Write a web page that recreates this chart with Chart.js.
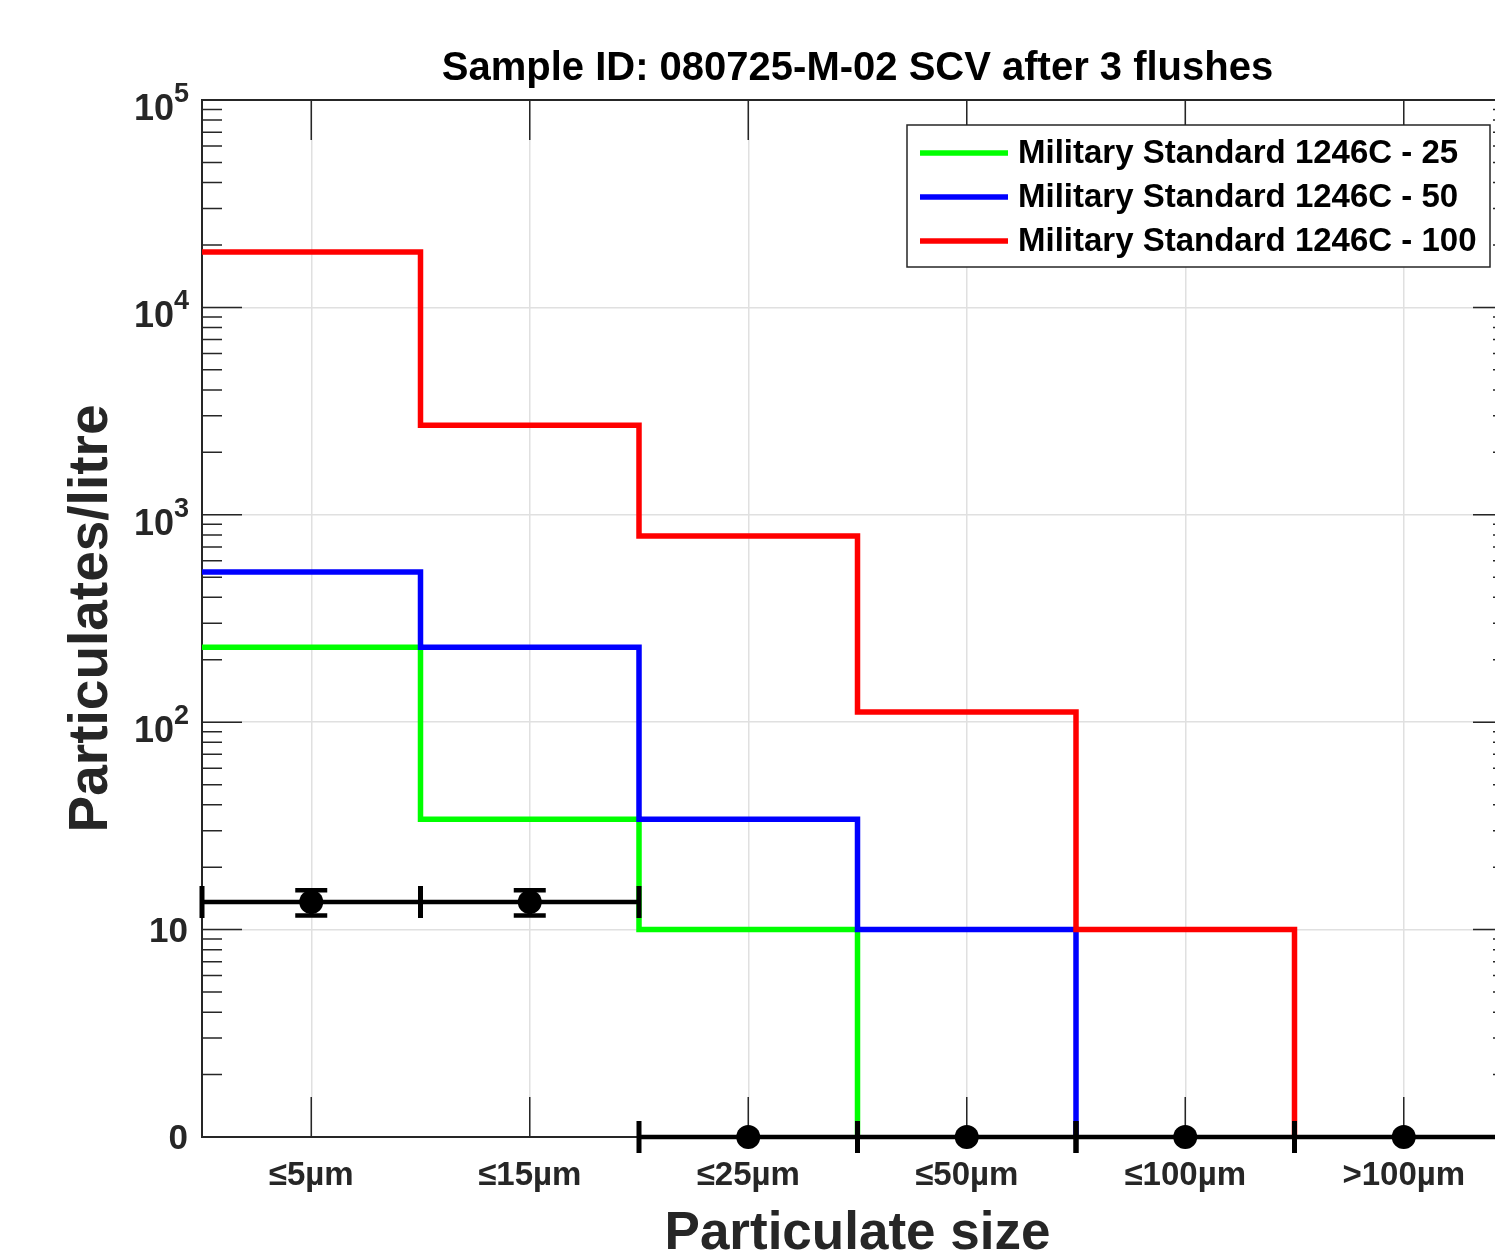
<!DOCTYPE html>
<html>
<head>
<meta charset="utf-8">
<title>Sample ID: 080725-M-02 SCV after 3 flushes</title>
<script src="https://cdn.jsdelivr.net/npm/chart.js@4.4.1/dist/chart.umd.min.js"></script>
<style>
  html, body { margin: 0; padding: 0; background: #fff; overflow: hidden; }
  canvas { display: block; }
</style>
</head>
<body>
<canvas id="particleChart" width="1515" height="1256"></canvas>
<script>
// DATOS DEL GRAFICO
const sizeBins = ['≤5µm', '≤15µm', '≤25µm', '≤50µm', '≤100µm', '>100µm'];
const milStd25 = [230, 34, 10, 0, 0, 0];
const milStd50 = [530, 230, 34, 10, 0, 0];
const milStd100 = [18500, 2700, 790, 112, 10, 0];
const sampleCounts = [13.6, 13.6, 0, 0, 0, 0];
const sampleErrors = [1.9, 1.9, 0, 0, 0, 0];
const yTickValues = [1, 10, 100, 1000, 10000, 100000];
const seriesLabels = ['Military Standard 1246C - 25', 'Military Standard 1246C - 50', 'Military Standard 1246C - 100'];

// ESTILOS
const FONT = '"Liberation Sans", Arial, Helvetica, sans-serif';
const AXIS_COLOR = '#262626';
const GRID_COLOR = '#e0e0e0';
const seriesColors = ['#00ff00', '#0000ff', '#ff0000'];
const FLOOR = 0.001; // los ceros caen por debajo del eje (como en escala log)

Chart.defaults.font.family = FONT;

// convierte los valores por intervalo en puntos de una linea escalonada
function stepPoints(values) {
    const pts = values.map((v, i) => ({ x: i, y: v > 0 ? v : FLOOR }));
    pts.push({ x: values.length, y: pts[pts.length - 1].y });
    return pts;
}

// EJES: caja, marcas interiores, etiquetas del eje y y titulo
const axesPlugin = {
    id: 'axesBox',
    beforeDatasetsDraw(chart) {
        const ctx = chart.ctx;
        const a = chart.chartArea;
        const xs = chart.scales.x;
        const ys = chart.scales.y;
        ctx.save();
        ctx.strokeStyle = AXIS_COLOR;
        ctx.lineWidth = 1.5;
        ctx.beginPath();
        // marcas de las decadas y menores
        for (let d = 0; d < yTickValues.length; d++) {
            const base = yTickValues[d];
            const y = ys.getPixelForValue(base);
            ctx.moveTo(a.left, y); ctx.lineTo(a.left + 40, y);
            ctx.moveTo(a.right, y); ctx.lineTo(a.right - 40, y);
            if (d < yTickValues.length - 1) {
                for (let k = 2; k <= 9; k++) {
                    const ym = ys.getPixelForValue(base * k);
                    ctx.moveTo(a.left, ym); ctx.lineTo(a.left + 20, ym);
                    ctx.moveTo(a.right, ym); ctx.lineTo(a.right - 20, ym);
                }
            }
        }
        // marcas del eje x
        sizeBins.forEach((lab, i) => {
            const x = xs.getPixelForValue(i + 0.5);
            ctx.moveTo(x, a.top); ctx.lineTo(x, a.top + 40);
            ctx.moveTo(x, a.bottom); ctx.lineTo(x, a.bottom - 40);
        });
        ctx.stroke();
        // caja
        ctx.lineWidth = 2;
        ctx.strokeRect(a.left, a.top, a.right - a.left, a.bottom - a.top);
        ctx.restore();
    },
    afterDraw(chart) {
        const ctx = chart.ctx;
        const ys = chart.scales.y;
        const xRight = 189;
        ctx.save();
        ctx.fillStyle = AXIS_COLOR;
        ctx.textAlign = 'right';
        ctx.textBaseline = 'alphabetic';
        yTickValues.forEach(v => {
            const y = ys.getPixelForValue(v);
            const e = Math.round(Math.log10(v));
            if (e <= 1) {
                ctx.font = 'bold 35px ' + FONT;
                ctx.fillText(e === 0 ? '0' : '10', xRight - 1, y + 12);
            } else {
                ctx.font = 'bold 27px ' + FONT;
                const exp = String(e);
                const w = ctx.measureText(exp).width;
                ctx.fillText(exp, xRight, y + 2);
                ctx.font = 'bold 36px ' + FONT;
                ctx.fillText('10', xRight - w, y + 20);
            }
        });
        // titulo
        const a = chart.chartArea;
        ctx.fillStyle = '#000';
        ctx.textAlign = 'center';
        ctx.font = 'bold 40px ' + FONT;
        ctx.fillText('Sample ID: 080725-M-02 SCV after 3 flushes', (a.left + a.right) / 2, 80);
        ctx.restore();
    }
};

// BARRAS DE ERROR DE LA MUESTRA
const errorBarPlugin = {
    id: 'sampleErrors',
    afterDatasetsDraw(chart) {
        const ctx = chart.ctx;
        const xs = chart.scales.x;
        const ys = chart.scales.y;
        ctx.save();
        ctx.strokeStyle = '#000';
        ctx.lineCap = 'butt';
        sampleCounts.forEach((v, i) => {
            const yv = v > 0 ? v : 1;
            const y = ys.getPixelForValue(yv);
            const x0 = xs.getPixelForValue(i);
            const x1 = xs.getPixelForValue(i + 1);
            const xc = xs.getPixelForValue(i + 0.5);
            ctx.lineWidth = 4.5;
            ctx.beginPath();
            ctx.moveTo(x0, y); ctx.lineTo(x1, y);
            ctx.stroke();
            ctx.lineWidth = 5;
            ctx.beginPath();
            ctx.moveTo(x0, y - 16); ctx.lineTo(x0, y + 16);
            ctx.moveTo(x1, y - 16); ctx.lineTo(x1, y + 16);
            ctx.stroke();
            const err = sampleErrors[i];
            if (err > 0) {
                const yHi = ys.getPixelForValue(v + err);
                const yLo = ys.getPixelForValue(v - err);
                ctx.lineWidth = 4.5;
                ctx.beginPath();
                ctx.moveTo(xc, yHi); ctx.lineTo(xc, yLo);
                ctx.moveTo(xc - 16, yHi); ctx.lineTo(xc + 16, yHi);
                ctx.moveTo(xc - 16, yLo); ctx.lineTo(xc + 16, yLo);
                ctx.stroke();
            }
        });
        ctx.restore();
    }
};

// LEYENDA DENTRO DEL AREA
const legendPlugin = {
    id: 'boxLegend',
    afterDraw(chart) {
        const ctx = chart.ctx;
        const left = 907, top = 125, w = 583, h = 142;
        ctx.save();
        ctx.fillStyle = '#fff';
        ctx.fillRect(left, top, w, h);
        ctx.strokeStyle = AXIS_COLOR;
        ctx.lineWidth = 1.5;
        ctx.strokeRect(left, top, w, h);
        ctx.font = 'bold 33px ' + FONT;
        ctx.textBaseline = 'middle';
        ctx.textAlign = 'left';
        chart.data.datasets.filter(ds => ds.inLegend).forEach((ds, i) => {
            const y = top + 28 + i * 44;
            ctx.strokeStyle = ds.borderColor;
            ctx.lineWidth = 5.5;
            ctx.beginPath();
            ctx.moveTo(left + 13, y); ctx.lineTo(left + 101, y);
            ctx.stroke();
            ctx.fillStyle = '#000';
            ctx.fillText(ds.label, left + 111, y + 1);
        });
        ctx.restore();
    }
};

const stdSeries = [milStd25, milStd50, milStd100];
const datasets = [{
    type: 'scatter',
    label: 'Sample',
    data: sampleCounts.map((v, i) => ({ x: i + 0.5, y: v > 0 ? v : 1 })),
    backgroundColor: '#000',
    borderWidth: 0,
    pointRadius: 12,
    clip: false,
    order: 0
}];
stdSeries.forEach((vals, k) => {
    datasets.push({
        type: 'line',
        label: seriesLabels[k],
        inLegend: true,
        data: stepPoints(vals),
        borderColor: seriesColors[k],
        borderWidth: 5.5,
        stepped: 'before',
        pointRadius: 0,
        fill: false,
        clip: 0,
        order: 3 - k
    });
});

const particleChart = new Chart(document.getElementById('particleChart'), {
    data: { datasets: datasets },
    options: {
        responsive: false,
        devicePixelRatio: 1,
        animation: false,
        events: [],
        // el area llega hasta x=1513, fuera de la ventana como en el original
        layout: { autoPadding: false, padding: { top: 100, right: 2, left: 0, bottom: 0 } },
        plugins: {
            legend: { display: false },
            tooltip: { enabled: false },
            title: { display: false }
        },
        scales: {
            x: {
                type: 'linear',
                min: 0,
                max: sizeBins.length,
                afterBuildTicks: s => { s.ticks = sizeBins.map((l, i) => ({ value: i + 0.5 })); },
                afterFit: s => { s.height = 119; s.paddingLeft = 0; s.paddingRight = 0; },
                ticks: {
                    callback: (v, i) => sizeBins[i],
                    font: { size: 33, weight: 'bold' },
                    color: AXIS_COLOR,
                    padding: 19,
                    maxRotation: 0,
                    autoSkip: false
                },
                grid: { color: GRID_COLOR, lineWidth: 1.5, drawTicks: false },
                border: { display: false },
                title: {
                    display: true,
                    text: 'Particulate size',
                    color: AXIS_COLOR,
                    font: { size: 53, weight: 'bold', lineHeight: 1 },
                    padding: { top: 0, bottom: -5 }
                }
            },
            y: {
                type: 'logarithmic',
                min: 1,
                max: 100000,
                afterBuildTicks: s => { s.ticks = yTickValues.map(v => ({ value: v })); },
                afterFit: s => { s.width = 202; },
                ticks: { display: false },
                grid: { color: GRID_COLOR, lineWidth: 1.5, drawTicks: false },
                border: { display: false },
                title: {
                    display: true,
                    text: 'Particulates/litre',
                    color: AXIS_COLOR,
                    font: { size: 55, weight: 'bold', lineHeight: 1 },
                    padding: { top: 64, bottom: 0 }
                }
            }
        }
    },
    plugins: [axesPlugin, errorBarPlugin, legendPlugin]
});
</script>
</body>
</html>
